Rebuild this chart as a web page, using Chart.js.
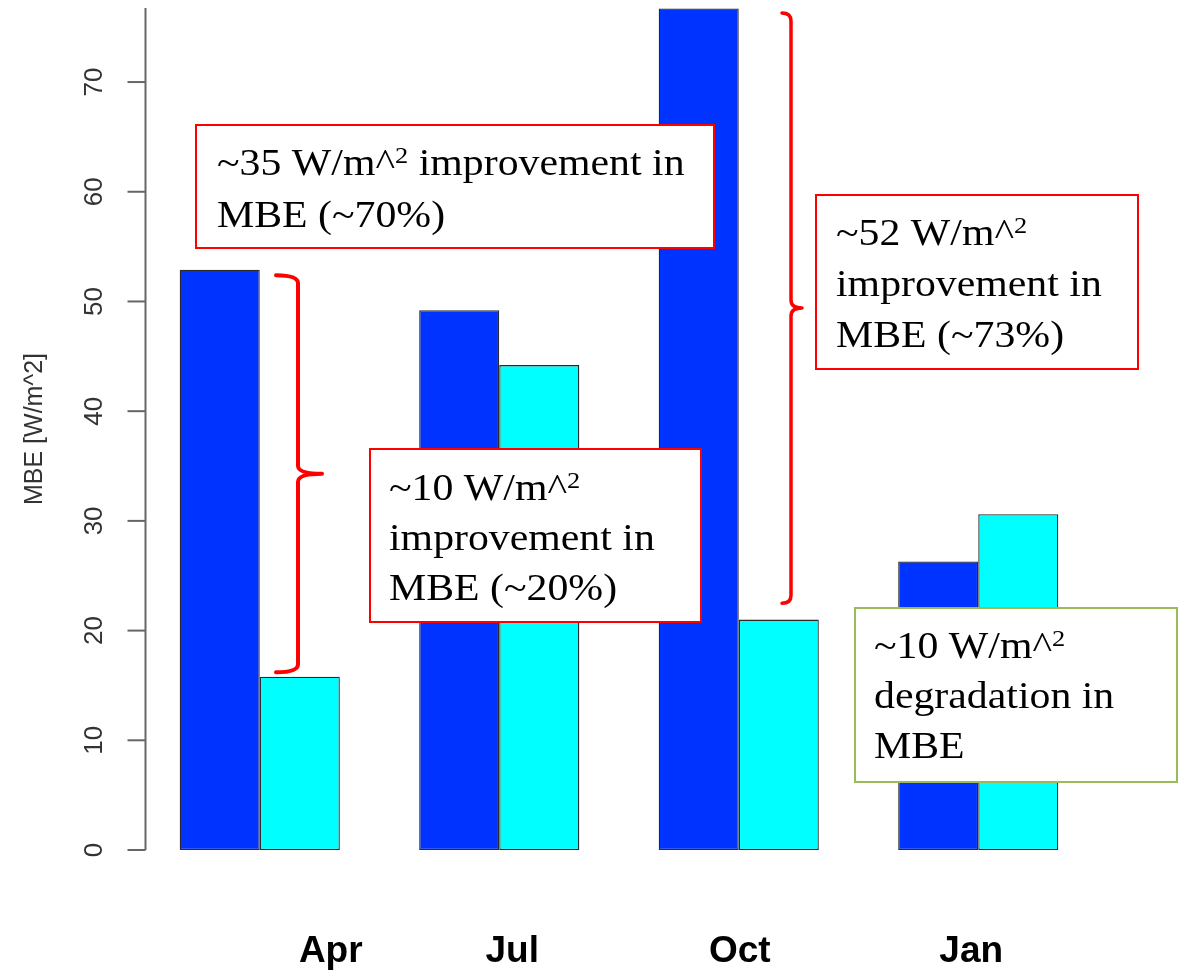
<!DOCTYPE html>
<html>
<head>
<meta charset="utf-8">
<script src="https://cdn.jsdelivr.net/npm/chart.js@4/dist/chart.umd.min.js"></script>
<style>
  html, body { margin: 0; padding: 0; background: #ffffff; }
  #wrap { width: 1186px; height: 973px; position: relative; }
</style>
</head>
<body>
<div id="wrap"><canvas id="c" width="1186" height="973"></canvas></div>
<script>
// ---- data ----
const categories = ['Apr', 'Jul', 'Oct', 'Jan'];
const seriesControl = [52.9, 49.2, 76.7, 26.3];
const seriesExperiment = [15.8, 44.2, 21.0, 30.6];
const yTickValues = [0, 10, 20, 30, 40, 50, 60, 70];
const yAxisTitle = 'MBE [W/m^2]';

// annotation texts (segments: [text, isSuperscript])
const noteApr = [[['~35 W/m^', false], ['2', true], [' improvement in', false]], [['MBE (~70%)', false]]];
const noteJul = [[['~10 W/m^', false], ['2', true]], [['improvement in', false]], [['MBE (~20%)', false]]];
const noteOct = [[['~52 W/m^', false], ['2', true]], [['improvement in', false]], [['MBE (~73%)', false]]];
const noteJan = [[['~10 W/m^', false], ['2', true]], [['degradation in', false]], [['MBE', false]]];

// bracket value spans (in data units)
const bracketApr = [52.4, 16.2];
const bracketOct = [76.3, 22.5];

// ---- styling / layout for annotations ----
const boxes = [
  { lines: noteApr, x: 196, y: 125, w: 518, h: 123, tx: 217, base: 175, step: 52, color: '#ff0000' },
  { lines: noteJul, x: 370, y: 449, w: 331, h: 173, tx: 389, base: 500, step: 50, color: '#ff0000' },
  { lines: noteOct, x: 816, y: 195, w: 322, h: 174, tx: 836, base: 245, step: 51, color: '#ff0000' },
  { lines: noteJan, x: 855, y: 608, w: 322, h: 174, tx: 874, base: 658, step: 50, color: '#9bbb59' }
];
const brackets = [
  { span: bracketApr, hookX: 276, lineX: 298, nubX: 322, width: 4 },
  { span: bracketOct, hookX: 782, lineX: 791, nubX: 802, width: 3.5 }
];
const labelOffsets = [71, 13, 1, -7];

const annotPlugin = {
  id: 'annot',
  afterDatasetsDraw(chart) {
    const ctx = chart.ctx;
    const ys = chart.scales.y;
    brackets.forEach(b => {
      const yt = ys.getPixelForValue(b.span[0]);
      const yb = ys.getPixelForValue(b.span[1]);
      const ym = (yt + yb) / 2;
      const r = Math.min(8, (b.lineX - b.hookX));
      ctx.save();
      ctx.strokeStyle = '#ff0000';
      ctx.lineWidth = b.width;
      ctx.lineCap = 'round';
      ctx.lineJoin = 'round';
      ctx.beginPath();
      ctx.moveTo(b.hookX, yt);
      ctx.quadraticCurveTo(b.lineX, yt, b.lineX, yt + r);
      ctx.lineTo(b.lineX, ym - r);
      ctx.quadraticCurveTo(b.lineX, ym, b.nubX, ym);
      ctx.quadraticCurveTo(b.lineX, ym, b.lineX, ym + r);
      ctx.lineTo(b.lineX, yb - r);
      ctx.quadraticCurveTo(b.lineX, yb, b.hookX, yb);
      ctx.stroke();
      ctx.restore();
    });
    boxes.forEach(bx => {
      ctx.save();
      ctx.fillStyle = '#ffffff';
      ctx.fillRect(bx.x, bx.y, bx.w, bx.h);
      ctx.strokeStyle = bx.color;
      ctx.lineWidth = 2;
      ctx.strokeRect(bx.x, bx.y, bx.w, bx.h);
      ctx.fillStyle = '#000000';
      ctx.textBaseline = 'alphabetic';
      ctx.textAlign = 'left';
      const sx = 1.1;
      bx.lines.forEach((segs, i) => {
        const baseY = bx.base + i * bx.step;
        ctx.save();
        ctx.translate(bx.tx, baseY);
        ctx.scale(sx, 1);
        let cx = 0;
        segs.forEach(([t, sup]) => {
          if (sup) {
            ctx.font = '24px "Liberation Serif", "Times New Roman", serif';
            ctx.fillText(t, cx, -12);
          } else {
            ctx.font = '38px "Liberation Serif", "Times New Roman", serif';
            ctx.fillText(t, cx, 0);
          }
          cx += ctx.measureText(t).width;
        });
        ctx.restore();
      });
      ctx.restore();
    });
  },
  afterDraw(chart) {
    const ctx = chart.ctx;
    const ys = chart.scales.y;
    const xs = chart.scales.x;
    const area = chart.chartArea;
    const axisX = area.left + 5.5;
    ctx.save();
    ctx.strokeStyle = '#666666';
    ctx.lineWidth = 2;
    ctx.beginPath();
    ctx.moveTo(axisX, area.top);
    ctx.lineTo(axisX, area.bottom);
    ctx.stroke();
    ctx.fillStyle = '#333333';
    ctx.font = '26px "Liberation Sans", Arial, sans-serif';
    ctx.textAlign = 'center';
    ctx.textBaseline = 'middle';
    ys.ticks.forEach(t => {
      const py = ys.getPixelForValue(t.value);
      ctx.beginPath();
      ctx.moveTo(axisX - 18, py);
      ctx.lineTo(axisX, py);
      ctx.stroke();
      ctx.save();
      ctx.translate(95, py);
      ctx.rotate(-Math.PI / 2);
      ctx.fillText(String(t.value), 0, 0);
      ctx.restore();
    });
    ctx.save();
    ctx.translate(35, (area.top + area.bottom) / 2);
    ctx.rotate(-Math.PI / 2);
    ctx.font = '25px "Liberation Sans", Arial, sans-serif';
    ctx.fillStyle = '#333333';
    ctx.fillText(yAxisTitle, 0, 0);
    ctx.restore();
    ctx.fillStyle = '#000000';
    ctx.font = 'bold 37px "Liberation Sans", Arial, sans-serif';
    ctx.textBaseline = 'alphabetic';
    categories.forEach((c, i) => {
      const px = xs.getPixelForValue(i) + labelOffsets[i];
      ctx.fillText(c, px, 962);
    });
    ctx.restore();
  }
};

new Chart(document.getElementById('c'), {
  type: 'bar',
  data: {
    labels: categories,
    datasets: [
      { label: 'Control', data: seriesControl, backgroundColor: '#0033ff', borderColor: '#2a2a2a', borderWidth: 1.3, borderSkipped: false },
      { label: 'Experiment', data: seriesExperiment, backgroundColor: '#00ffff', borderColor: '#2a2a2a', borderWidth: 1.3, borderSkipped: false }
    ]
  },
  options: {
    responsive: false,
    animation: false,
    devicePixelRatio: 1,
    layout: { padding: { top: 8, bottom: 123, right: 88, left: 0 } },
    plugins: { legend: { display: false }, tooltip: { enabled: false }, title: { display: false } },
    datasets: { bar: { categoryPercentage: 0.6686, barPercentage: 1.0 } },
    scales: {
      x: { display: false },
      y: {
        display: true,
        min: 0,
        max: 76.75,
        ticks: { display: false, stepSize: 10 },
        grid: { display: false },
        border: { display: false },
        afterFit: s => { s.width = 140; },
        afterBuildTicks: s => { s.ticks = yTickValues.map(v => ({ value: v })); }
      }
    }
  },
  plugins: [annotPlugin]
});
</script>
</body>
</html>
